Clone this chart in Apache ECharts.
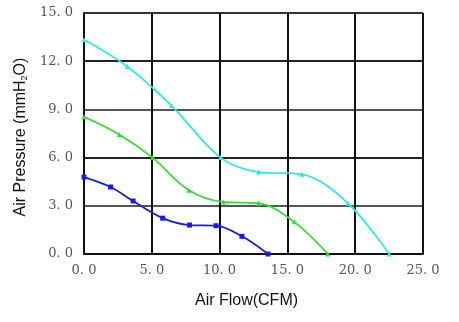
<!DOCTYPE html>
<html>
<head>
<meta charset="utf-8">
<script src="https://cdn.jsdelivr.net/npm/echarts@6/dist/echarts.min.js"></script>
<style>
  html, body { margin: 0; padding: 0; background: #fff; }
  #chart { width: 459px; height: 322px; }
</style>
</head>
<body>
<div id="chart"></div>
<script>
// P-Q curves for three fan speeds: air flow (CFM) vs static pressure (mmH2O)
const flowLow = [0, 1.96, 3.62, 5.8, 7.78, 9.74, 11.65, 13.57];
const pressureLow = [4.79, 4.17, 3.3, 2.23, 1.8, 1.76, 1.1, 0];

const flowMid = [0, 2.6, 5.05, 7.74, 10.29, 12.87, 15.5, 17.98];
const pressureMid = [8.54, 7.44, 6.0, 3.97, 3.24, 3.16, 2.0, 0];

const flowHigh = [0, 3.19, 6.45, 10.07, 12.87, 16.07, 19.46, 22.5];
const pressureHigh = [13.33, 11.67, 9.24, 6.0, 5.1, 4.96, 3.16, 0];

const xTicks = [0, 5, 10, 15, 20, 25];
const yTicks = [0, 3, 6, 9, 12, 15];

const pairs = (xs, ys) => xs.map((x, i) => [x, ys[i]]);
const fmt = v => v.toFixed(1).replace('.', '. ');

const chart = echarts.init(document.getElementById('chart'));

const axisLabelStyle = {
  fontFamily: 'DejaVu Serif, Liberation Serif, serif',
  fontSize: 13,
  color: '#555'
};

chart.setOption({
  animation: false,
  grid: { left: 84, right: 36, top: 13, bottom: 68 },
  xAxis: {
    type: 'value',
    min: xTicks[0],
    max: xTicks[xTicks.length - 1],
    interval: 5,
    name: 'Air Flow(CFM)',
    nameLocation: 'middle',
    nameGap: 39,
    nameTextStyle: {
      fontFamily: 'Liberation Sans, Arial, sans-serif',
      fontSize: 16,
      color: '#111',
      padding: [0, 14, 0, 0]
    },
    axisLine: { lineStyle: { color: '#111', width: 2 } },
    axisTick: { show: false },
    axisLabel: Object.assign({ margin: 10, formatter: fmt }, axisLabelStyle),
    splitLine: { show: true, lineStyle: { color: '#111', width: 2 } }
  },
  yAxis: {
    type: 'value',
    min: yTicks[0],
    max: yTicks[yTicks.length - 1],
    interval: 3,
    name: 'Air Pressure (mmH{sub|2}O)',
    nameLocation: 'middle',
    nameGap: 55,
    nameRotate: 90,
    nameTextStyle: {
      fontFamily: 'Liberation Sans, Arial, sans-serif',
      fontSize: 16,
      color: '#111',
      padding: [0, 7, 0, 0],
      rich: {
        sub: { fontFamily: 'Liberation Sans, Arial, sans-serif', fontSize: 9, color: '#111', verticalAlign: 'bottom', padding: [8, 0, 0, 0] }
      }
    },
    axisLine: { show: true, lineStyle: { color: '#111', width: 2 } },
    axisTick: { show: false },
    axisLabel: Object.assign({ margin: 11, formatter: fmt }, axisLabelStyle),
    splitLine: { show: true, lineStyle: { color: ['#111', '#555', '#222', '#555', '#222', '#333'], width: 2 } }
  },
  series: [
    {
      type: 'line',
      data: pairs(flowLow, pressureLow),
      smooth: 0.35,
      symbol: 'rect',
      symbolSize: 5,
      lineStyle: { color: '#1a1ae0', width: 1.8 },
      itemStyle: { color: '#1a1ae0' }
    },
    {
      type: 'line',
      data: pairs(flowMid, pressureMid),
      smooth: 0.35,
      symbol: 'triangle',
      symbolSize: 5,
      lineStyle: { color: '#33dd33', width: 1.8 },
      itemStyle: { color: '#33dd33' }
    },
    {
      type: 'line',
      data: pairs(flowHigh, pressureHigh),
      smooth: 0.35,
      symbol: 'triangle',
      symbolSize: 5,
      lineStyle: { color: '#2ee8e8', width: 1.8 },
      itemStyle: { color: '#2ee8e8' }
    }
  ]
});
</script>
</body>
</html>
